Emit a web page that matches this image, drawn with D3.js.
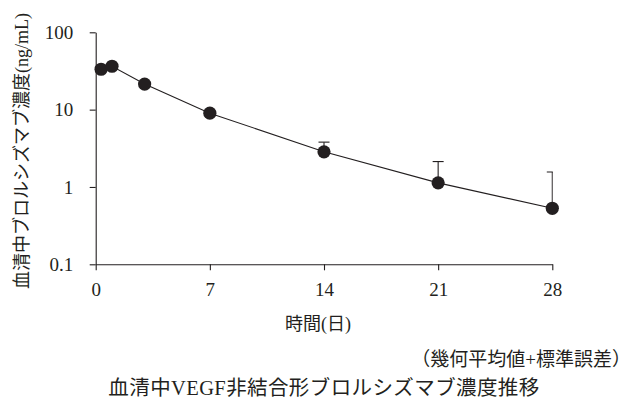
<!DOCTYPE html>
<html>
<head>
<meta charset="UTF-8">
<script src="https://d3js.org/d3.v7.min.js"></script>
<style>
  body { margin: 0; background: #fff; }
  text { font-family: "Liberation Serif", "Noto Sans CJK JP", serif; fill: #231f20; }
</style>
</head>
<body>
<svg id="chart" width="635" height="404"></svg>
<script>
// 投与後の時間（日）
var days = [0.33, 1, 3, 7, 14, 21, 28];
// 幾何平均値 (ng/mL)
var geoMean = [33.3, 36.4, 21.4, 9.0, 2.85, 1.13, 0.53];
// 幾何平均値+標準誤差
var upperSE = [35, 38, 23, 9.8, 3.8, 2.13, 1.56];
var xTicks = [0, 7, 14, 21, 28];
var yTicks = [0.1, 1, 10, 100];

var ink = "#231f20";
var margin = {left: 95.7, right: 82.7, top: 32.3, bottom: 139.7};
var svg = d3.select("#chart");
var width = +svg.attr("width");
var height = +svg.attr("height");

var x = d3.scaleLinear().domain([0, 28]).range([margin.left, width - margin.right]);
var y = d3.scaleLog().domain([0.1, 100]).range([height - margin.bottom, margin.top]);

// 軸
var xAxis = svg.append("g")
  .attr("transform", "translate(0," + y(0.1) + ")")
  .call(d3.axisBottom(x).tickValues(xTicks).tickSize(6).tickSizeOuter(0).tickPadding(12.5));
var yAxis = svg.append("g")
  .attr("transform", "translate(" + x(0) + ",0)")
  .call(d3.axisLeft(y).tickValues(yTicks).tickSize(6).tickSizeOuter(0).tickPadding(16.5)
    .tickFormat(function(d) { return d < 1 ? "0.1" : String(d); }));
[xAxis, yAxis].forEach(function(a) {
  a.selectAll("path, line").attr("stroke", ink).attr("stroke-width", 1.1);
  a.selectAll("text").attr("font-size", 19).attr("fill", ink)
    .style("font-family", '"Liberation Serif", serif');
});

// エラーバー（プロット範囲の右端でクリップ）
svg.append("clipPath").attr("id", "plotClip")
  .append("rect")
  .attr("x", x(0) - 10).attr("y", 0)
  .attr("width", x(28) - x(0) + 10.5).attr("height", height);

var pts = days.map(function(d, i) { return {t: d, m: geoMean[i], u: upperSE[i]}; });
var err = svg.append("g").attr("clip-path", "url(#plotClip)")
  .attr("stroke", ink).attr("stroke-width", 1.1);
err.selectAll(".v").data(pts).enter().append("line")
  .attr("x1", function(d) { return x(d.t); }).attr("x2", function(d) { return x(d.t); })
  .attr("y1", function(d) { return y(d.m); }).attr("y2", function(d) { return y(d.u); });
err.selectAll(".cap").data(pts).enter().append("line")
  .attr("x1", function(d) { return x(d.t) - 5.5; }).attr("x2", function(d) { return x(d.t) + 5.5; })
  .attr("y1", function(d) { return y(d.u); }).attr("y2", function(d) { return y(d.u); });

// 折れ線
var line = d3.line().x(function(d) { return x(d.t); }).y(function(d) { return y(d.m); });
svg.append("path").datum(pts)
  .attr("d", line).attr("fill", "none").attr("stroke", ink).attr("stroke-width", 1.1);

// マーカー
svg.selectAll(".dot").data(pts).enter().append("circle")
  .attr("cx", function(d) { return x(d.t); })
  .attr("cy", function(d) { return y(d.m); })
  .attr("r", 6.6).attr("fill", ink);

// ラベル
svg.append("text")
  .attr("transform", "translate(22," + 151 + ") rotate(-90)")
  .attr("text-anchor", "middle").attr("dominant-baseline", "central")
  .attr("font-size", 18)
  .text("血清中ブロルシズマブ濃度(ng/mL)");

svg.append("text")
  .attr("x", (x(0) + x(28)) / 2 - 6).attr("y", 330)
  .attr("text-anchor", "middle").attr("font-size", 18)
  .text("時間(日)");

svg.append("text")
  .attr("x", 631).attr("y", 366)
  .attr("text-anchor", "end").attr("font-size", 19)
  .text("（幾何平均値+標準誤差）");

svg.append("text")
  .attr("x", (x(0) + x(28)) / 2).attr("y", 395)
  .attr("text-anchor", "middle").attr("font-size", 20.5)
  .attr("letter-spacing", 0.4)
  .text("血清中VEGF非結合形ブロルシズマブ濃度推移");
</script>
</body>
</html>
